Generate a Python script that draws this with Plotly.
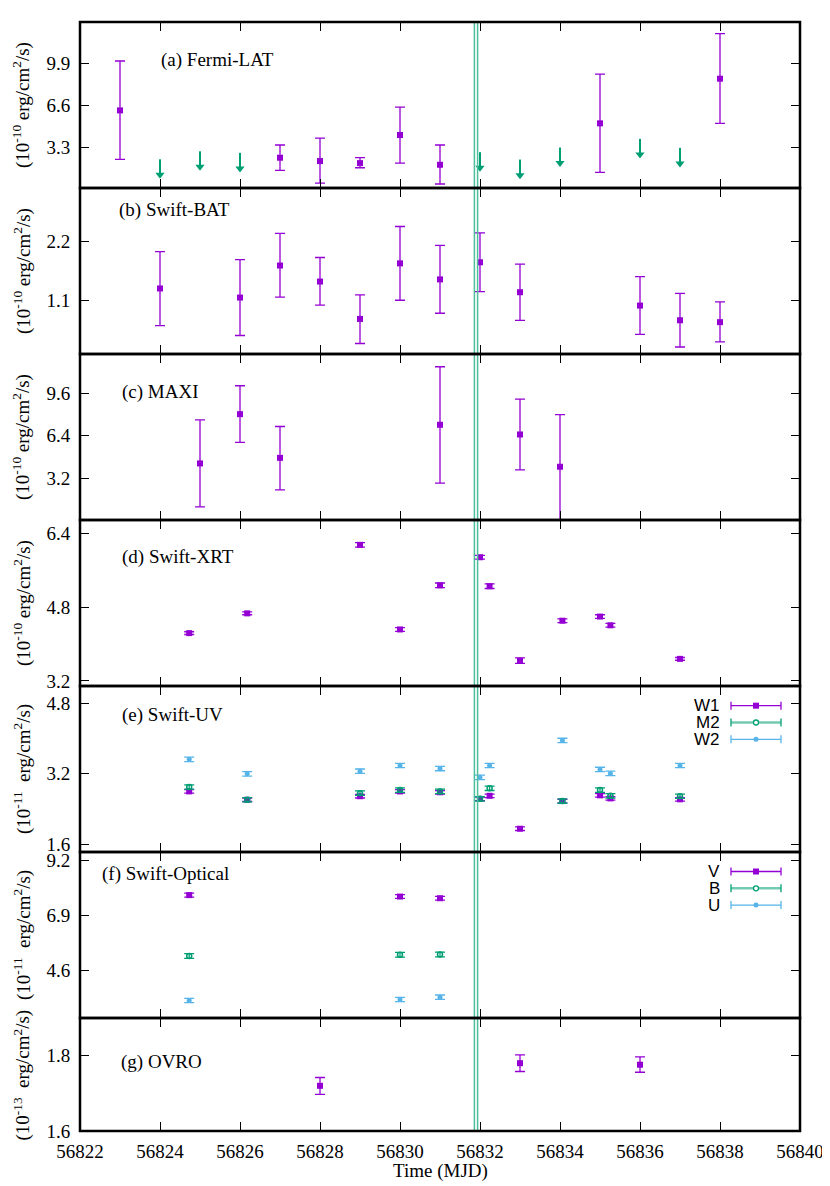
import plotly.graph_objects as go
from plotly.subplots import make_subplots

# ---------------- data ----------------
# (a) Fermi-LAT
fermi_x = [56823, 56827, 56828, 56829, 56830, 56831, 56835, 56838]
fermi_y = [6.21, 2.52, 2.26, 2.10, 4.29, 1.97, 5.20, 8.68]
fermi_hi = [10.06, 3.51, 4.05, 2.52, 6.47, 3.51, 9.04, 12.19]
fermi_lo = [2.39, 1.53, 0.54, 1.74, 2.10, 0.47, 1.38, 5.20]
fermi_ul_x = [56824, 56825, 56826, 56832, 56833, 56834, 56836, 56837]
fermi_ul = [2.39, 3.01, 2.88, 2.94, 2.36, 3.30, 3.98, 3.27]
ul_arrow_len = 1.5

# (b) Swift-BAT
bat_x = [56824, 56826, 56827, 56828, 56829, 56830, 56831, 56832, 56833, 56836, 56837, 56838]
bat_y = [1.32, 1.15, 1.75, 1.45, 0.75, 1.79, 1.49, 1.81, 1.25, 1.00, 0.725, 0.69]
bat_hi = [2.01, 1.86, 2.35, 1.90, 1.20, 2.48, 2.125, 2.36, 1.775, 1.54, 1.23, 1.07]
bat_lo = [0.625, 0.44, 1.16, 1.01, 0.29, 1.10, 0.856, 1.26, 0.725, 0.46, 0.225, 0.32]

# (c) MAXI
maxi_x = [56825, 56826, 56827, 56831, 56833, 56834]
maxi_y = [4.32, 8.03, 4.74, 7.23, 6.50, 4.07]
maxi_hi = [7.60, 10.17, 7.10, 11.60, 9.16, 8.00]
maxi_lo = [1.05, 5.90, 2.33, 2.84, 3.84, -0.40]

# (d) Swift-XRT
xrt_x = [56824.73, 56826.18, 56829.0, 56830.0, 56831.0, 56832.0, 56832.24,
         56833.0, 56834.06, 56835.0, 56835.26, 56837.0]
xrt_y = [4.24, 4.67, 6.16, 4.32, 5.28, 5.89, 5.26, 3.64, 4.51, 4.60, 4.41, 3.68]
xrt_err = [0.03, 0.03, 0.05, 0.04, 0.05, 0.04, 0.05, 0.06, 0.04, 0.04, 0.04, 0.03]

# (e) Swift-UV
uv_x = xrt_x
uv_w1 = [2.80, 2.61, 2.69, 2.80, 2.78, 2.63, 2.70, 1.95, 2.58, 2.71, 2.64, 2.62]
uv_m2 = [2.90, 2.61, 2.76, 2.83, 2.80, 2.63, 2.87, None, 2.58, 2.83, 2.70, 2.69]
uv_w2 = [3.53, 3.20, 3.26, 3.39, 3.32, 3.12, 3.39, None, 3.96, 3.30, 3.21, 3.39]
uv_w1_err = [0.04] * 12
uv_m2_err = [0.05] * 12
uv_w2_err = [0.05] * 12

# (f) Swift-Optical
opt_x = [56824.73, 56830.0, 56831.0]
opt_v = [7.75, 7.69, 7.62]
opt_b = [5.21, 5.26, 5.27]
opt_u = [3.35, 3.39, 3.49]
opt_v_err = [0.08, 0.08, 0.08]
opt_b_err = [0.10, 0.10, 0.10]
opt_u_err = [0.09, 0.09, 0.09]

# (g) OVRO
ovro_x = [56828, 56833, 56836]
ovro_y = [1.72, 1.78, 1.776]
ovro_hi = [1.742, 1.802, 1.797]
ovro_lo = [1.697, 1.758, 1.756]

# flare lines
flare_x = [56831.86, 56831.94]

panel_labels = ["(a) Fermi-LAT", "(b) Swift-BAT", "(c) MAXI", "(d) Swift-XRT",
                "(e) Swift-UV", "(f) Swift-Optical", "(g) OVRO"]
ytitles = ["(10<sup>-10</sup> erg/cm<sup>2</sup>/s)"] * 4 + \
          ["(10<sup>-11</sup>&nbsp; erg/cm<sup>2</sup>/s)",
           "(10<sup>-11</sup>&nbsp; erg/cm<sup>2</sup>/s)",
           "(10<sup>-13</sup>&nbsp; erg/cm<sup>2</sup>/s)"]
yranges = [[0.16, 13.1], [0.094, 3.2], [0.06, 12.56], [3.09, 6.70],
           [1.42, 5.2], [2.62, 9.55], [1.6, 1.9]]
ytickvals = [[3.3, 6.6, 9.9], [1.1, 2.2], [3.2, 6.4, 9.6], [3.2, 4.8, 6.4],
             [1.6, 3.2, 4.8], [4.6, 6.9, 9.2], [1.6, 1.8]]
xticks = list(range(56822, 56841, 2))
uv_names = ["W1", "M2", "W2"]
opt_names = ["V", "B", "U"]

# ---------------- styling / layout geometry ----------------
PURPLE = "#9400d3"
GREEN = "#009e73"
BLUE = "#56b4e9"
SERIF = "Liberation Serif"
SANS = "Liberation Sans"
FS = 19

OFF = 8                    # page body margin in the browser
W, H = 830 - OFF, 1186 - OFF
L, T = 72, 14              # plot area starts at screen (80, 22)
heights = [166] * 6 + [113]
PH = sum(heights)
PW = 720
R = W - L - PW
B = H - T - PH


def xp(sx):
    """screen x pixel -> paper"""
    return (sx - OFF - L) / PW


def yp(sy):
    """screen y pixel -> paper"""
    return (T + PH - (sy - OFF)) / PH


# domains (paper) for each row, top row first
domains = []
top = T
for h in heights:
    domains.append([(T + PH - top - h) / PH, (T + PH - top) / PH])
    top += h

fig = make_subplots(rows=7, cols=1, shared_xaxes=True, vertical_spacing=0,
                    row_heights=heights)


def add_err(row, x, y, color, symbol, size, hi=None, lo=None, err=None,
            open_marker=False):
    if err is not None:
        ey = dict(type="data", array=err, symmetric=True)
    else:
        ey = dict(type="data", symmetric=False,
                  array=[h - v for h, v in zip(hi, y)],
                  arrayminus=[v - l for v, l in zip(y, lo)])
    ey.update(color=color, thickness=1.3, width=5)
    marker = dict(symbol=symbol, size=size, color=color)
    if open_marker:
        marker["line"] = dict(color=color, width=1.5)
    fig.add_trace(go.Scatter(x=x, y=y, mode="markers", marker=marker,
                             error_y=ey, showlegend=False), row=row, col=1)


# (a)
add_err(1, fermi_x, fermi_y, PURPLE, "square", 6, hi=fermi_hi, lo=fermi_lo)
# upper-limit arrows: shaft as a one-sided error bar, head as a marker
fig.add_trace(go.Scatter(
    x=fermi_ul_x, y=fermi_ul, mode="markers", marker=dict(size=1, color=GREEN),
    error_y=dict(type="data", symmetric=False, array=[0] * len(fermi_ul),
                 arrayminus=[ul_arrow_len - 0.4] * len(fermi_ul),
                 color=GREEN, thickness=2, width=0),
    showlegend=False), row=1, col=1)
fig.add_trace(go.Scatter(
    x=fermi_ul_x, y=[u - ul_arrow_len + 0.3 for u in fermi_ul], mode="markers",
    marker=dict(symbol="triangle-down", size=8, color=GREEN,
                line=dict(width=0)),
    showlegend=False), row=1, col=1)
# (b)
add_err(2, bat_x, bat_y, PURPLE, "square", 6, hi=bat_hi, lo=bat_lo)
# (c)
add_err(3, maxi_x, maxi_y, PURPLE, "square", 6, hi=maxi_hi, lo=maxi_lo)
# (d)
add_err(4, xrt_x, xrt_y, PURPLE, "square", 6, err=xrt_err)
# (e)
add_err(5, uv_x, uv_w1, PURPLE, "square", 6, err=uv_w1_err)
add_err(5, uv_x, uv_m2, GREEN, "circle-open", 5, err=uv_m2_err, open_marker=True)
add_err(5, uv_x, uv_w2, BLUE, "circle", 5, err=uv_w2_err)
# (f)
add_err(6, opt_x, opt_v, PURPLE, "square", 6, err=opt_v_err)
add_err(6, opt_x, opt_b, GREEN, "circle-open", 5, err=opt_b_err, open_marker=True)
add_err(6, opt_x, opt_u, BLUE, "circle", 5, err=opt_u_err)
# (g)
add_err(7, ovro_x, ovro_y, PURPLE, "square", 6, hi=ovro_hi, lo=ovro_lo)

# axes
for i in range(1, 8):
    fig.update_xaxes(row=i, col=1, range=[56822, 56840], tickvals=xticks,
                     tickformat="d", ticks="inside", ticklen=9, tickwidth=1,
                     tickcolor="black", showline=True, linewidth=1,
                     linecolor="black", mirror="ticks", showgrid=False,
                     zeroline=False, showticklabels=(i == 7),
                     automargin=False,
                     tickfont=dict(family=SERIF, size=FS, color="black"),
                     ticklabelstandoff=3)
    fig.update_yaxes(row=i, col=1, range=yranges[i - 1], domain=domains[i - 1],
                     tickvals=ytickvals[i - 1], ticks="inside", ticklen=9,
                     tickwidth=1, tickcolor="black", showline=True,
                     linewidth=1, linecolor="black", mirror="ticks",
                     showgrid=False, zeroline=False, automargin=False,
                     tickfont=dict(family=SERIF, size=FS, color="black"),
                     ticklabelstandoff=5)

# flare lines spanning all panels
for fx in flare_x:
    fig.add_shape(type="line", xref="x7", yref="paper", x0=fx, x1=fx,
                  y0=0, y1=1, line=dict(color="#4dbf9c", width=1.5))

# thick panel frames
for d in domains:
    fig.add_shape(type="rect", xref="paper", yref="paper", x0=0, x1=1,
                  y0=d[0], y1=d[1], line=dict(color="black", width=2.5),
                  fillcolor="rgba(0,0,0,0)")

# panel labels and y titles (screen pixel positions)
label_px = [(159, 60), (117, 210), (120, 392), (120, 557), (120, 715),
            (100, 874), (119, 1062)]
for i, (lab, yt) in enumerate(zip(panel_labels, ytitles)):
    lx, ly = label_px[i]
    fig.add_annotation(text=lab, xref="paper", yref="paper", x=xp(lx),
                       y=yp(ly), xanchor="left", yanchor="middle",
                       showarrow=False,
                       font=dict(family=SERIF, size=FS, color="black"))
    mid = (domains[i][0] + domains[i][1]) / 2
    fig.add_annotation(text=yt, xref="paper", yref="paper", x=xp(22),
                       y=mid, xanchor="center", yanchor="middle",
                       textangle=-90, showarrow=False, borderpad=0,
                       font=dict(family=SERIF, size=19, color="black"))

fig.add_annotation(text="Time (MJD)", xref="paper", yref="paper",
                   x=xp(440), y=yp(1171), xanchor="center", yanchor="middle",
                   showarrow=False, font=dict(family=SERIF, size=FS, color="black"))

# custom gnuplot-style legends
def legend_block(names, first_row_py):
    colors = [PURPLE, GREEN, BLUE]
    for k, (nm, col) in enumerate(zip(names, colors)):
        py = first_row_py + k * 16.8
        fig.add_annotation(text=nm, xref="paper", yref="paper", x=xp(721),
                           y=yp(py), xanchor="right", yanchor="middle",
                           showarrow=False, borderpad=0,
                           font=dict(family=SANS, size=17, color="black"))
        lw = 2.5 if k == 1 else 1.3
        lcol = "rgba(0,158,115,0.55)" if k == 1 else col
        fig.add_shape(type="line", xref="paper", yref="paper", x0=xp(731),
                      x1=xp(781), y0=yp(py), y1=yp(py),
                      line=dict(color=lcol, width=lw))
        for cx in (731, 781):
            fig.add_shape(type="line", xref="paper", yref="paper", x0=xp(cx),
                          x1=xp(cx), y0=yp(py - 4), y1=yp(py + 4),
                          line=dict(color=col, width=1.3))
        if k == 0:
            fig.add_shape(type="rect", xref="paper", yref="paper",
                          x0=xp(753), x1=xp(759), y0=yp(py - 3), y1=yp(py + 3),
                          fillcolor=col, line=dict(width=0))
        elif k == 1:
            fig.add_shape(type="circle", xref="paper", yref="paper",
                          x0=xp(753.5), x1=xp(758.5), y0=yp(py - 2.5),
                          y1=yp(py + 2.5), fillcolor="white",
                          line=dict(color=col, width=1.3))
        else:
            fig.add_shape(type="circle", xref="paper", yref="paper",
                          x0=xp(753.5), x1=xp(758.5), y0=yp(py - 2.5),
                          y1=yp(py + 2.5), fillcolor=col,
                          line=dict(width=0))


legend_block(uv_names, 705.7)
legend_block(opt_names, 871.5)

fig.update_layout(template="none", width=W, height=H,
                  margin=dict(l=L, r=R, t=T, b=B, autoexpand=False),
                  plot_bgcolor="white", paper_bgcolor="white",
                  showlegend=False)

fig.write_html("out.html")
